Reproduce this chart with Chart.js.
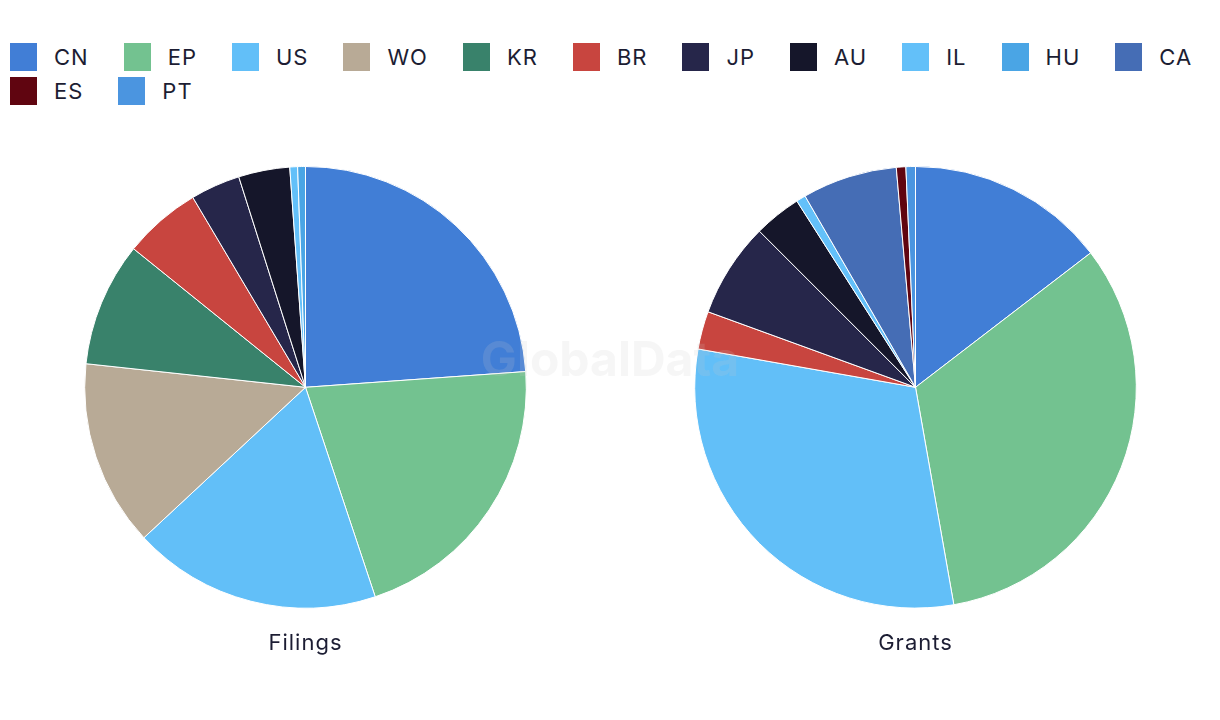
<!DOCTYPE html>
<html>
<head>
<meta charset="utf-8">
<script src="https://cdn.jsdelivr.net/npm/chart.js@4.4.1/dist/chart.umd.min.js"></script>
<style>
  html, body { margin: 0; padding: 0; background: #fff; }
  body { width: 1220px; height: 720px; position: relative; overflow: hidden;
         font-family: "Inter", "Roboto", sans-serif; color: #1c1d33; }
  #legend { position: absolute; left: 10px; top: 43px; width: 1210px;
            display: flex; flex-wrap: wrap; column-gap: 35px; row-gap: 6px; }
  .item { display: flex; align-items: center; height: 28px; font-size: 22px; letter-spacing: 1px; }
  .sw { width: 27px; height: 28px; margin-right: 17px; }
  .pie { position: absolute; top: 166px; width: 443px; height: 491px; }
  #wm { position: absolute; left: 0; width: 1220px; top: 329px; text-align: center;
        font: bold 48px "Inter", sans-serif; color: rgba(200,200,200,0.17); pointer-events: none; }
</style>
</head>
<body>
<div id="legend"></div>
<div class="pie" style="left:84px"><canvas id="filings"></canvas></div>
<div class="pie" style="left:694px"><canvas id="grants"></canvas></div>
<div id="wm">GlobalData</div>
<script>
  /* ── Data ─────────────────────────────────────────────── */
  const countries = ["CN", "EP", "US", "WO", "KR", "BR", "JP", "AU", "IL", "HU", "CA", "ES", "PT"];
  const colors = ["#417ed6", "#73c290", "#62bff8", "#b8aa96", "#39826b", "#c8453f", "#26264a",
                  "#15162a", "#63c0f9", "#4aa5e5", "#456db5", "#600510", "#4b95e0"];
  const filings = [42, 37, 32, 24, 16, 10, 6.4, 6.6, 1, 1, 0, 0, 0];
  const grants  = [21, 47, 44, 0, 0, 4, 10, 5, 1, 0, 10, 1, 1];
  const chartTitles = ["Filings", "Grants"];

  /* ── Legend ───────────────────────────────────────────── */
  document.getElementById("legend").innerHTML = countries.map((c, i) =>
    `<div class="item"><span class="sw" style="background:${colors[i]}"></span>${c}</div>`).join("");

  /* ── Pies ─────────────────────────────────────────────── */
  function makePie(id, data, title) {
    const canvas = document.getElementById(id);
    canvas.style.letterSpacing = "1px";
    new Chart(canvas, {
      type: "pie",
      data: {
        labels: countries,
        datasets: [{ data, backgroundColor: colors, borderColor: "#fff", borderWidth: 1 }]
      },
      options: {
        responsive: true,
        maintainAspectRatio: false,
        animation: false,
        layout: { padding: 0 },
        plugins: {
          legend: { display: false },
          tooltip: { enabled: false },
          title: {
            display: true, text: title, position: "bottom", color: "#1c1d33",
            font: { family: "Inter, Roboto, sans-serif", size: 22, weight: "normal", lineHeight: 1.2 },
            padding: { top: 22, bottom: 0 }
          }
        }
      }
    });
  }
  makePie("filings", filings, chartTitles[0]);
  makePie("grants", grants, chartTitles[1]);
</script>
</body>
</html>
